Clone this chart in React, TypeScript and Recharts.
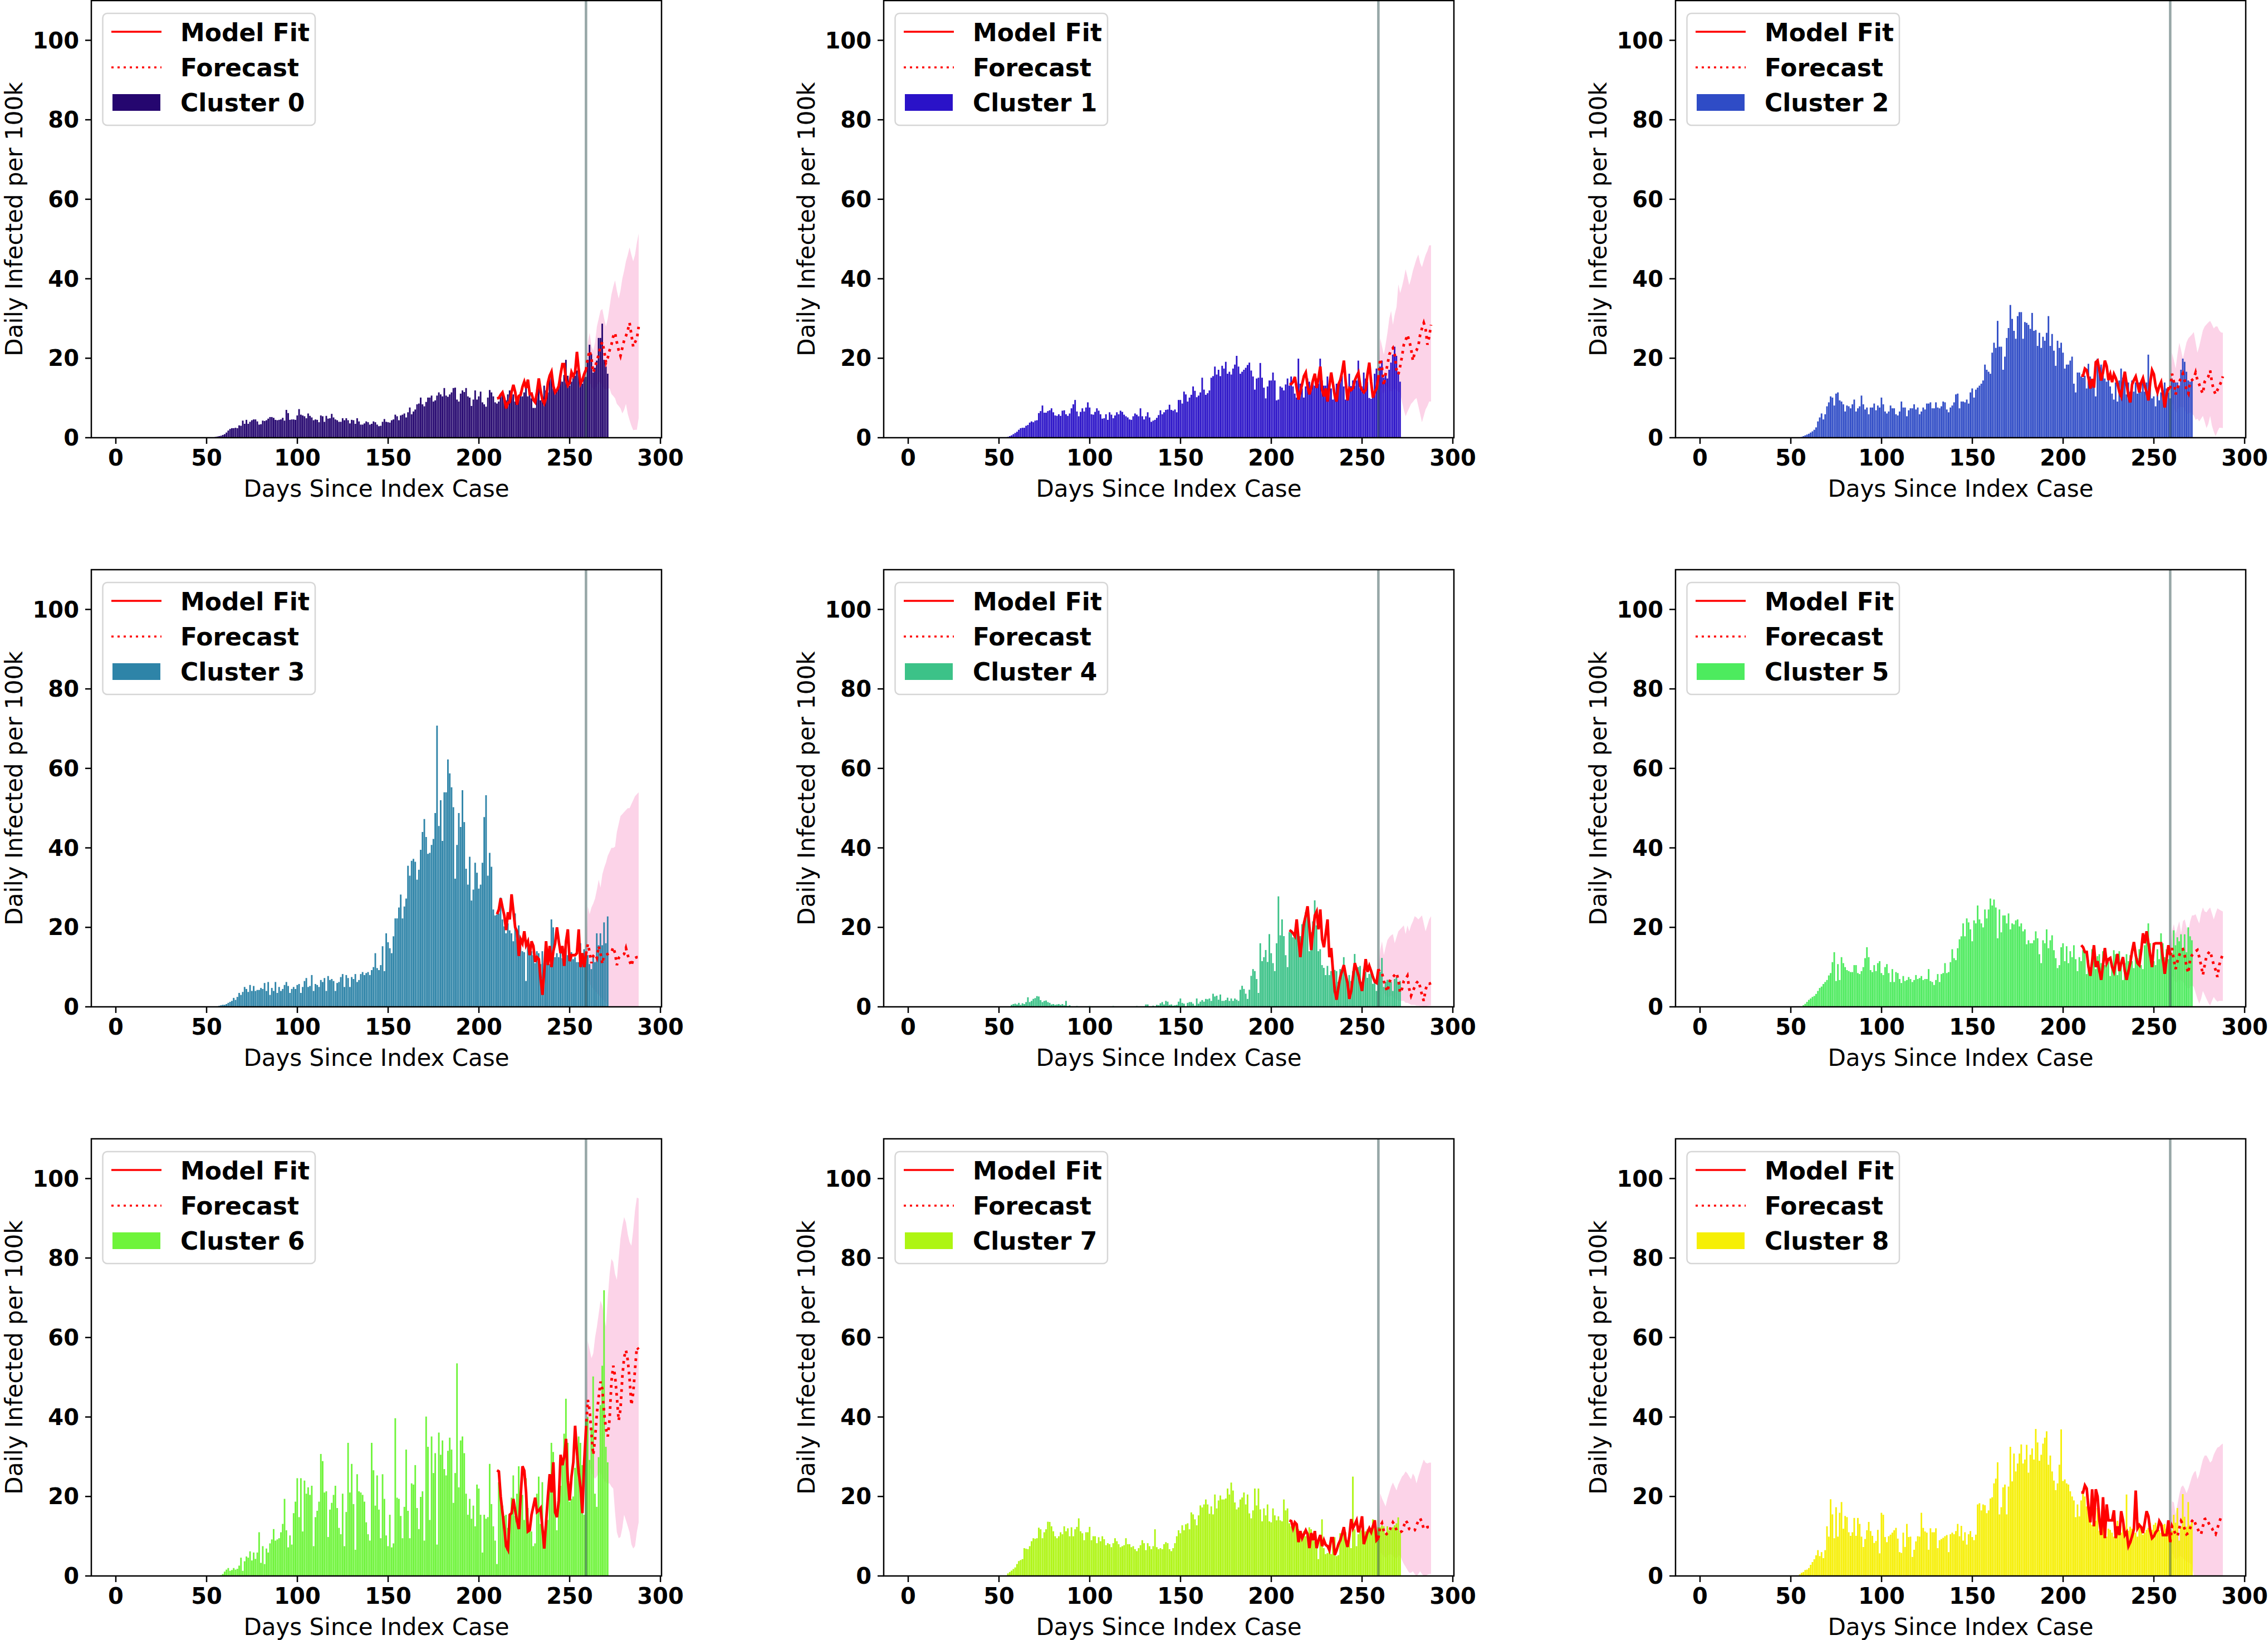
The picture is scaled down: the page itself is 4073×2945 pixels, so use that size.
import { ComposedChart, Bar, Line, Area, XAxis, YAxis, ReferenceLine } from 'recharts'

const FONT = '"DejaVu Sans", sans-serif'

// first day of each series
const BAR_START = 55
const FIT_START = 210
const FC_START = 259
const SPLIT_DAY = 259

const X_TICKS = [0, 50, 100, 150, 200, 250, 300]
const Y_TICKS = [0, 20, 40, 60, 80, 100]

const CLUSTERS = ['Cluster 0', 'Cluster 1', 'Cluster 2', 'Cluster 3', 'Cluster 4', 'Cluster 5', 'Cluster 6', 'Cluster 7', 'Cluster 8']
const COLORS = ['#25066f', '#2a12c8', '#2f4cc6', '#2e84a8', '#3cc288', '#4deb5e', '#6ef43a', '#aef512', '#f6ef05']

// daily infected per 100k, days 55..271
const bars0 = [0.2,0.3,0.4,0.5,0.7,0.9,1.3,1.8,2.2,2.4, 2.4,2.5,2.4,3.1,3.0,4.3,3.5,4.5,3.5,4.0, 4.4,4.6,4.6,4.1,3.3,3.4,4.3,4.2,4.4,4.8, 5.2,5.2,5.0,4.5,4.4,4.5,4.6,5.0,4.3,7.0, 6.2,4.5,4.6,4.6,4.5,5.6,7.2,5.8,5.6,5.4, 4.9,6.1,5.5,5.1,4.4,4.6,4.5,3.9,5.6,5.4, 4.0,5.5,4.8,4.9,6.0,5.1,4.6,4.4,4.0,4.0, 4.9,4.4,4.9,4.4,3.6,4.5,4.4,3.5,4.9,4.1, 3.3,3.3,3.6,4.1,3.9,3.3,3.5,4.1,3.9,3.3, 2.9,3.0,4.0,4.7,4.0,3.9,3.8,4.4,4.6,5.8, 5.4,4.4,5.6,5.8,6.1,5.1,6.4,7.6,5.9,6.6, 7.1,8.4,8.6,10.1,8.4,7.9,9.0,10.1,10.1,10.6, 9.1,9.4,10.6,11.4,10.9,10.4,12.5,10.6,10.3,10.9, 11.4,12.5,12.6,9.6,9.1,11.1,11.9,11.5,12.5,10.4, 10.1,8.0,9.6,11.9,9.6,10.4,11.6,8.9,8.4,7.8, 10.1,12.0,11.4,10.4,8.9,8.6,9.1,10.4,10.9,9.4, 9.4,10.9,11.9,10.5,10.9,9.1,10.4,10.4,11.4,10.4, 11.4,13.3,10.4,11.9,9.9,7.5,7.5,11.4,14.4,9.4, 10.4,13.1,11.9,11.4,14.9,15.9,12.4,11.4,11.9,13.6, 15.1,14.1,15.8,19.6,15.6,13.1,14.1,15.1,15.6,16.9, 16.9,13.6,13.6,15.3,15.3,19.6,23.4,21.1,16.4,17.6, 19.4,25.1,25.1,28.7,19.6,17.9,16.1]
const bars1 = [0.2,0.4,0.6,0.9,1.2,1.5,2.0,2.4,2.5,2.5, 3.0,3.2,3.8,4.1,3.9,4.3,4.4,6.2,6.7,8.1, 6.3,6.3,6.7,6.9,7.4,6.4,5.6,5.5,5.9,5.5, 6.8,6.9,5.9,5.5,6.1,7.4,8.4,9.5,6.6,5.4, 6.5,7.4,6.6,7.6,8.9,7.6,5.9,5.8,6.5,7.4, 6.8,5.9,4.8,4.9,5.9,4.5,6.4,5.8,4.9,5.6, 6.4,5.9,6.8,6.5,5.8,5.4,5.1,4.6,4.5,5.4, 6.1,5.8,5.4,7.4,5.4,4.6,5.4,6.4,5.1,4.0, 4.3,4.5,5.0,5.7,6.9,5.9,6.4,7.0,7.1,8.3, 7.0,6.8,7.1,6.4,9.5,9.5,8.6,11.6,10.9,9.1, 10.1,10.8,12.9,11.8,10.2,10.6,11.4,15.1,12.1,10.8, 11.2,11.9,15.1,15.5,17.9,15.9,17.1,15.5,18.1,17.4, 19.1,16.1,16.6,15.9,17.4,18.4,20.6,17.9,16.1,16.6, 17.1,17.6,18.3,18.9,16.9,15.4,12.1,14.9,15.1,18.8, 15.1,12.6,9.9,12.9,14.4,14.4,16.4,14.4,9.4,9.6, 12.9,12.6,11.9,13.4,14.9,13.1,15.4,12.9,11.1,10.1, 19.9,13.6,12.4,10.1,12.9,14.9,14.1,12.4,14.4,13.1, 14.9,13.6,19.9,14.4,13.1,13.1,15.4,13.6,12.4,9.6, 11.4,13.6,13.6,14.1,15.6,12.9,9.6,10.4,16.1,13.0, 14.4,13.1,14.4,19.4,12.5,12.9,16.4,14.9,14.1,10.0, 9.8,10.1,16.1,17.4,15.4,17.9,19.4,15.1,15.9,14.9, 17.1,18.9,20.9,22.9,20.6,16.6,14.1]
const bars2 = [0.1,0.2,0.4,0.6,0.8,1.0,1.3,1.6,2.0,2.6, 4.1,5.1,6.1,4.6,5.9,7.9,8.9,10.4,10.1,8.1, 11.1,11.4,9.4,9.1,8.4,6.6,8.1,7.9,7.4,8.4, 9.6,6.6,7.4,7.9,10.6,8.4,7.1,7.6,5.9,7.6, 7.6,8.6,6.9,8.1,7.6,10.1,8.4,6.6,6.1,6.6, 8.1,7.4,7.4,5.9,5.6,6.6,9.1,7.6,7.6,5.4, 6.9,7.4,7.4,8.4,7.1,7.6,5.9,6.6,7.6,7.1, 8.6,8.6,8.9,7.4,7.4,8.9,7.6,7.4,7.9,9.1, 8.9,7.1,6.4,7.6,8.1,8.9,10.9,11.1,7.4,9.1, 9.1,8.9,9.6,8.6,11.4,12.4,10.1,12.1,12.6,13.1, 13.6,14.4,18.4,17.1,16.6,16.1,21.4,23.9,22.6,29.4, 22.9,22.9,17.1,20.4,25.1,27.6,33.4,29.9,26.9,24.9, 30.6,31.6,31.6,24.9,29.1,28.9,28.4,27.4,31.4,26.9, 27.1,23.1,26.4,22.6,25.4,24.4,26.4,30.6,23.1,26.1, 21.9,18.1,24.4,22.6,23.9,21.4,17.4,18.4,18.4,19.4, 20.4,13.6,11.4,16.4,16.4,15.4,15.1,15.6,12.4,18.6, 15.4,14.4,13.9,10.4,19.9,16.6,18.4,16.9,14.9,14.1, 14.6,12.9,11.1,9.6,13.9,9.1,14.4,17.4,15.1,14.6, 10.9,13.9,11.6,14.4,11.6,13.9,11.1,13.9,11.6,14.4, 11.6,13.9,20.9,13.9,9.9,10.4,7.9,12.6,9.4,11.4, 11.9,13.9,12.4,11.4,9.9,14.9,14.1,13.9,13.9,13.1, 17.1,19.9,19.1,16.6,14.4,14.1,14.4]
const bars3 = [0.1,0.15,0.25,0.4,0.5,0.5,0.7,1.0,1.25,1.5, 2.25,1.75,2.5,3.5,3.0,3.75,5.0,4.5,3.75,5.5, 4.0,5.25,4.0,4.25,4.25,4.75,4.5,6.0,4.0,6.25, 3.0,4.75,4.0,6.25,3.5,5.0,4.0,4.5,5.5,6.25, 5.25,3.5,4.5,5.0,4.5,5.5,5.75,3.5,5.0,6.5, 7.25,5.0,5.25,8.0,4.0,5.75,5.5,5.0,6.75,6.25, 7.25,4.0,7.75,6.75,7.0,6.5,4.0,6.0,6.25,7.5, 8.25,5.0,8.0,7.25,5.0,7.5,7.0,8.25,6.25,6.75, 8.25,8.75,8.0,8.5,8.75,8.0,9.25,10.0,13.5,9.75, 9.25,10.5,15.25,9.0,18.5,16.25,14.75,13.5,17.75,22.25, 22.25,25.0,28.25,22.25,25.25,27.25,35.5,33.0,36.75,37.25, 36.5,32.0,34.5,39.5,44.0,47.25,42.75,38.5,38.75,40.75, 42.25,48.75,70.75,45.5,52.0,41.75,54.0,54.0,62.25,58.75, 55.25,50.25,32.25,40.75,48.75,45.25,54.5,46.5,34.75,30.75, 37.75,26.75,29.5,36.25,33.75,29.75,30.75,36.25,47.75,53.25, 33.0,38.75,35.25,24.5,23.0,23.25,23.5,27.5,22.0,20.25, 18.5,21.0,19.25,18.5,16.5,23.5,17.0,20.5,15.75,14.0, 13.75,6.5,16.5,14.0,14.0,13.0,11.0,14.0,13.5,10.75, 14.0,11.0,12.5,12.0,10.75,22.0,20.0,12.5,13.5,12.5, 14.5,12.25,12.0,14.25,13.0,11.5,13.75,12.0,12.5,11.25, 11.25,16.0,13.25,14.5,12.75,13.0,10.75,9.5,12.5,11.25, 18.5,15.5,18.5,15.5,21.25,16.0,22.75]
const bars4 = [0,0,0.5,0.7,0.8,0.6,1.0,0.5,0.9,0.7, 1.2,2.4,1.2,1.5,2.0,2.2,2.7,2.6,1.7,1.2, 1.5,1.6,1.2,1.0,0.6,0.7,0.5,0.6,0.7,0.5, 0.7,0.4,1.5,0.2,0.4,0,0,0.1,0.2,0, 0.1,0,0,0.1,0,0.2,0.1,0,0,0, 0.1,0,0,0.1,0,0.1,0,0,0.2,0, 0,0.1,0,0.1,0,0,0.1,0,0,0.1, 0,0.2,0,0,0.1,0,0.6,0.6,0,0, 0.3,0,0.5,0.4,0.9,1.2,0.6,1.5,1.3,0.5, 0.6,0.3,0.4,0.5,1.3,2.1,1.0,0.8,0,1.0, 1.2,1.2,0.8,0.3,2.1,0.8,1.3,1.7,1.3,2.0, 1.9,2.1,1.5,3.3,2.6,2.8,1.8,3.1,1.5,1.5, 1.7,2.3,1.5,2.1,1.5,2.1,1.8,1.5,4.3,5.3, 4.5,3.3,2.0,4.3,7.8,9.5,9.0,7.0,3.5,16.0, 11.5,12.5,14.3,11.3,18.3,13.5,11.0,9.0,16.0,27.8, 18.0,22.0,17.8,13.0,10.0,18.8,19.0,17.5,18.8,19.8, 16.0,17.8,20.8,21.0,23.8,24.3,14.0,18.8,21.5,26.8, 20.5,14.0,14.5,10.5,9.8,8.0,10.3,8.0,9.0,8.3, 9.3,9.0,6.3,9.5,9.0,12.5,8.8,6.5,8.0,6.5, 9.0,13.3,9.0,10.0,10.3,6.3,9.5,8.8,7.3,8.3, 9.0,5.8,7.0,4.0,8.3,8.8,12.3,5.0,6.3,6.8, 6.8,6.3,4.0,7.0,7.5,6.3,6.5]
const bars5 = [0,0,0.4,0.75,1.25,1.75,2.1,2.5,2.75,3.25, 4.0,4.75,5.1,5.75,6.25,6.75,7.9,8.5,11.25,13.75, 6.5,10.75,6.75,12.5,11.0,10.0,9.25,9.0,8.75,8.75, 10.5,10.5,8.5,8.25,9.0,10.0,12.25,15.0,12.5,9.25, 8.75,10.5,9.0,11.0,11.5,8.5,8.0,10.0,10.75,8.5, 6.25,9.5,6.25,8.75,8.5,7.0,6.0,7.75,6.5,6.75, 7.5,7.0,6.25,6.75,8.0,7.0,7.25,7.75,6.75,7.0, 7.0,9.5,6.5,6.25,5.5,6.75,8.25,6.25,8.25,8.5, 11.0,8.5,8.75,11.25,14.5,12.25,11.75,14.75,17.0,17.75, 21.0,17.75,22.25,21.25,19.5,16.5,21.75,21.0,25.5,22.0, 21.0,20.0,24.5,22.25,24.5,27.25,25.5,27.0,25.0,17.25, 24.5,18.75,23.0,23.0,21.0,23.5,19.5,21.0,20.75,21.75, 22.0,20.25,21.0,19.0,19.5,15.75,16.75,16.0,16.0,16.75, 19.0,17.25,13.25,11.0,16.75,16.0,19.5,14.75,16.75,18.0, 14.25,12.25,9.75,10.5,15.0,16.0,11.5,15.25,11.0,14.0, 12.5,15.5,12.0,9.0,12.5,11.5,14.25,13.5,8.25,11.75, 10.0,14.5,12.5,9.5,12.75,13.25,11.0,14.0,10.5,11.5, 11.25,7.75,11.0,14.25,13.25,8.0,14.0,11.0,6.75,11.0, 13.25,11.5,13.0,11.5,9.75,13.5,12.25,14.5,10.5,9.5, 15.5,17.75,21.0,16.0,13.0,11.5,10.5,14.5,12.0,18.5, 16.0,12.5,14.5,12.0,14.0,13.5,19.25,15.5,17.5,16.5, 18.25,14.25,18.25,13.75,20.0,17.75,16.75]
const bars6 = [0,0,0,0.2,0.5,1.1,1.6,2.0,1.3,1.5, 2.0,1.6,1.8,2.6,4.6,1.3,3.7,4.9,4.6,6.2, 3.9,5.9,4.3,5.9,11.0,3.3,7.5,3.0,6.9,5.9, 8.2,9.2,11.8,8.9,9.2,9.5,11.0,13.1,19.4,11.5, 7.2,10.2,7.9,15.8,18.7,24.6,14.8,24.6,11.2,24.0, 20.7,22.3,20.4,22.7,7.5,14.8,16.4,18.7,30.7,28.9, 21.0,21.3,9.8,16.7,18.4,20.4,22.7,17.1,12.1,10.5, 20.7,7.5,16.1,33.5,21.0,28.2,18.1,6.6,25.6,21.3, 21.0,20.4,18.7,13.5,10.5,8.9,33.5,26.6,17.7,25.3, 16.7,9.5,25.6,19.4,10.2,7.5,15.4,7.2,8.2,39.7, 19.7,19.4,15.1,9.5,17.4,31.8,16.4,9.5,23.3,23.0, 27.9,17.1,11.8,19.9,21.3,8.9,40.1,32.5,14.1,35.1, 25.9,30.9,7.9,36.1,30.5,34.1,26.9,25.3,31.5,34.8, 31.8,18.4,25.9,53.5,22.3,34.1,35.1,30.9,20.7,15.4, 19.4,14.4,17.7,12.5,23.0,22.0,15.4,5.9,15.4,14.4, 14.8,28.2,18.1,12.5,8.9,3.0,23.6,21.7,17.7,15.1, 15.4,12.1,12.8,19.7,25.3,15.1,20.7,27.6,19.4,20.4, 14.1,24.6,17.1,11.5,11.2,7.5,8.2,20.7,25.0,13.1, 23.6,7.9,11.5,14.1,25.0,33.5,31.2,19.7,11.5,18.7, 22.7,29.6,35.8,44.6,33.5,18.7,19.4,20.0,27.2,29.9, 35.1,33.5,27.9,15.4,39.4,40.0,29.2,37.4,50.2,20.7, 17.4,29.9,43.0,52.9,71.9,32.5,28.6]
const bars7 = [0.65,1.0,1.35,1.75,2.15,3.0,3.75,4.0,4.25,7.0, 6.85,6.75,7.5,8.75,9.5,9.35,9.5,12.15,11.75,9.5, 11.0,11.75,13.65,13.6,12.5,11.25,10.0,9.5,10.0,11.0, 10.5,12.5,11.25,12.0,10.0,12.25,10.0,11.75,12.35,14.5, 11.25,10.75,9.0,11.0,11.0,12.35,9.0,10.0,10.0,8.25, 9.75,8.75,10.0,9.25,7.75,8.25,8.0,7.25,8.25,9.5, 8.75,8.0,7.25,7.5,7.75,9.5,8.0,8.0,7.25,7.5, 6.75,6.25,7.0,7.75,9.0,8.25,6.5,8.25,7.5,6.75, 7.5,11.75,7.25,6.75,7.0,6.75,8.0,8.5,8.25,6.75, 6.25,7.0,8.25,10.0,11.5,10.75,12.75,11.5,13.0,13.25, 11.75,16.0,15.5,14.25,12.75,15.25,17.75,17.25,18.0,19.25, 18.0,15.65,17.5,15.5,20.5,17.0,19.0,20.25,19.25,19.25, 19.5,22.0,20.5,23.5,21.5,18.5,16.75,17.25,19.25,19.75, 21.0,18.0,20.5,15.75,14.5,16.5,22.0,17.75,22.0,16.75, 13.75,17.0,15.25,18.0,13.75,13.5,17.0,15.25,14.0,15.0, 14.0,13.75,19.25,16.5,17.0,13.25,12.5,11.75,13.25,12.5, 11.75,10.5,10.75,11.25,10.0,11.0,12.25,11.75,10.25,8.75, 8.25,4.25,9.5,14.25,7.0,5.5,5.75,6.25,5.5,9.25, 9.75,5.0,5.25,10.75,10.0,11.25,11.0,8.25,9.0,7.0, 25.0,11.75,7.5,10.5,12.75,11.5,11.0,11.25,11.75,12.0, 11.5,14.25,13.75,11.25,12.25,12.25,12.75,12.5,10.75,12.5, 11.5,11.75,12.25,12.75,13.25,14.75,11.0]
const bars8 = [0.4,0.8,1.0,1.5,1.6,2.0,2.8,3.5,4.2,5.2, 6.5,5.0,6.0,4.5,6.5,12.5,9.9,19.3,15.5,9.5, 17.3,9.9,15.9,18.6,11.9,15.1,14.8,11.0,10.1,11.0, 14.6,10.1,14.6,13.1,9.9,7.3,9.3,11.5,13.6,11.3, 10.1,8.3,8.8,11.6,5.7,15.9,15.4,9.8,8.5,10.0, 10.4,10.9,11.5,12.1,9.4,6.0,5.8,10.9,7.3,13.1, 9.8,9.9,4.8,6.6,8.7,10.0,9.9,15.9,12.1,11.2, 10.9,6.6,12.0,11.0,11.0,12.0,7.0,9.0,9.3,9.6, 10.0,10.3,6.0,10.5,10.9,10.5,11.3,13.1,10.0,12.6, 8.9,11.0,7.9,10.5,11.3,9.8,9.0,10.4,18.0,18.3, 16.5,18.0,17.8,15.8,16.5,19.5,19.8,23.3,24.5,28.6, 15.5,17.3,22.3,23.0,15.5,22.5,32.5,23.8,30.8,26.3, 28.3,30.8,33.1,28.3,29.3,33.0,26.0,30.5,32.1,29.3, 37.0,33.6,29.0,30.5,33.3,34.8,36.4,28.0,30.3,26.3, 24.0,21.6,23.3,28.0,36.9,23.9,24.3,23.3,23.0,21.3, 20.0,19.0,14.8,18.0,15.0,19.0,21.5,20.0,17.5,16.0, 15.4,12.9,12.9,13.9,17.1,11.4,13.4,14.9,11.4,9.9, 11.9,11.6,10.9,9.9,10.6,13.9,10.4,10.9,12.9,10.4, 20.5,11.4,12.4,11.9,10.9,10.9,9.9,13.4,12.4,10.4, 10.9,11.6,12.1,13.4,11.6,12.9,13.4,12.1,11.6,10.9, 12.9,13.1,11.9,12.4,11.9,11.4,15.4,13.4,17.1,8.9, 12.4,20.6,14.9,12.4,18.6,12.9,14.1]

// model fit, days 210..259
const fit0 = [9.9,10.0,10.8,11.4,9.8,7.4,8.8,9.0,11.5,13.3, 11.5,8.3,10.5,10.8,12.8,14.1,12.5,14.6,11.0,11.1, 9.5,8.9,11.5,14.9,11.8,9.5,8.6,10.0,13.8,15.6, 16.6,13.0,11.4,12.0,13.0,16.0,18.5,18.5,14.5,13.1, 13.8,16.5,15.5,16.5,21.6,17.0,13.6,14.5,16.0,17.1]
const fit1 = [13.5,13.5,14.0,15.3,12.5,9.6,11.5,13.5,15.5,16.4, 13.0,10.9,12.5,14.5,16.1,12.5,15.0,17.9,12.0,10.4, 12.4,9.1,13.0,16.4,13.5,10.5,9.1,13.4,14.5,16.5, 19.4,14.0,9.4,12.4,12.0,12.5,14.4,15.5,16.4,13.0, 12.0,11.4,12.0,16.0,18.9,14.0,10.1,11.5,12.4,15.1]
const fit2 = [15.6,15.6,17.4,17.0,15.0,12.4,14.8,12.6,19.0,19.4, 17.0,14.4,16.5,19.4,18.0,14.5,16.0,14.0,16.0,15.0, 13.5,11.5,10.4,14.0,16.6,13.5,10.5,8.9,13.4,14.5, 15.4,13.5,11.4,13.9,15.0,13.0,11.4,9.4,13.9,17.0, 16.0,12.9,11.4,13.0,14.0,11.0,7.6,11.0,12.4,12.4]
const fit3 = [23.3,24.5,27.3,25,23,19.3,23.8,22,28.3,24, 20,19,12.8,17,16,19,15.5,16.5,13,16.5, 15.3,11.3,12.5,12,7,3,9,16.5,10.5,15.3, 10,14,16,20,16.5,13.5,15.3,10.3,16.5,19.5, 11.5,13,13,13,13.5,19.5,10,13.5,10,13.3]
const fit4 = [19.3,19.0,18.5,17.8,22.0,17.0,12.5,17.0,21.0,23.0, 25.3,20.0,14.3,19.0,23.0,24.0,19.5,24.5,17.0,15.0, 18.5,22.0,12.5,14.8,9.0,4.0,1.8,5.0,7.5,9.0, 10.5,8.0,6.0,2.0,4.0,7.5,11.0,9.5,8.0,6.0, 4.0,8.0,12.0,8.8,10.3,9.0,7.5,6.3,6.0,9.5]
const fit5 = [15.5,15.0,13.8,13.8,10.0,7.8,11.5,15.5,10.0,11.5, 9.0,6.8,10.5,14.8,11.0,12.0,12.3,10.0,8.8,11.0, 13.3,9.0,11.0,12.5,9.0,6.8,9.0,11.0,14.0,16.3, 13.0,11.0,10.5,14.0,18.5,16.0,19.0,16.0,13.0,10.0, 15.8,16.0,16.0,16.0,16.0,12.0,8.3,12.0,15.5,13.0]
const fit6 = [26.6,26.3,20,16,12,7.5,6.6,15.4,15.8,19.4, 16.5,13.8,11.8,20,27.6,26.5,21,11.2,11.5,15.4, 17.5,19.7,16.1,16.5,17.1,12,6.9,13.4,20,25.6, 21.0,28.6,16,14.8,19.0,30.5,27.9,30,34.5,24, 19.0,25,28.6,37.8,31.2,26,22.3,15.8,28.6,37.1]
const fit7 = [14.0,13.8,12.0,13.5,13.0,8.5,11.3,9.5,10.5,11.5, 10.5,7.0,10.8,9.0,11.3,7.0,9.0,10.3,7.5,9.0, 7.8,7.5,6.5,9.5,9.5,5.3,6.5,8.0,9.0,10.5, 12.3,9.0,7.3,10.0,14.3,12.0,13.0,14.0,11.0,12.5, 15.0,8.0,9.5,11.0,12.0,11.0,12.5,14.0,9.0,9.5]
const fit8 = [21.0,21.0,22.8,22.0,17.0,13.5,21.8,12.5,21.8,20.0, 14.0,10.3,19.8,9.5,18.0,14.0,14.0,14.0,16.5,9.5, 12.5,10.3,16.3,14.0,10.3,11.0,7.5,8.5,10.0,11.8, 21.5,12.0,12.8,12.3,10.8,13.5,16.3,15.0,11.3,9.5, 10.0,11.0,11.5,13.8,13.0,10.3,10.3,10.3,14.0,8.5]

// forecast mean, days 259..288
const fc0 = [17.1,20,21.9,19.9,16.4,17.8,19.5,20.9,23,24.1, 21.9,18.9,20.1,22,23.4,25.5,26.4,24,22,20.6, 22.6,24.5,25.6,27,28.9,25.9,22.9,24,24.9,27.9]
const fc1 = [15.1,19.9,17.6,13.1,16.1,18.4,20.9,22.0,22.6,20.9, 17.1,15.9,18.0,20.4,23.4,24.5,25.9,24.4,22.4,19.4, 21.4,22.0,23.1,25.9,27.5,28.9,27.4,23.4,25.4,28.4]
const fc2 = [12.4,16.1,14.1,10.9,12.4,14.1,15.0,16.1,14.4,11.9, 11.1,14.1,14.5,14.9,16.4,14.5,13.4,12.0,11.1,14.1, 14.8,15.4,16.9,13.9,12.0,10.9,12.0,12.9,14.0,15.4]
const fc3 = [13.3,15.8,13.8,11,12.8,13.3,12.3,15.3,13.5,10.8, 12.8,13,13.3,13.5,13.8,15,13.5,10.5,12.3,12.8, 13,13.3,14.8,13,11.5,10.3,12,12.3,12.5,12.5]
const fc4 = [9.5,8.5,8.5,6.5,5.0,3.8,6.0,7.3,7.5,8.0, 8.5,6.8,3.5,4.5,6.5,7.0,7.8,4.5,2.8,4.0, 5.0,6.0,6.5,5.0,3.0,1.5,4.3,5.8,5.8,6.0]
const fc5 = [13.0,14.8,11.8,9.5,11.5,13.0,14.3,14.5,13.0,10.0, 8.5,12.0,13.0,13.5,14.0,14.3,12.5,10.5,8.0,10.5, 12.8,13.5,14.0,12.3,10.5,9.3,7.5,10.5,12.0,13.3]
const fc6 = [37.1,44.3,41.7,35.8,30.5,34.5,41,45,48.9,47, 41,37,35.1,39.5,48.9,52.9,50.3,45,39.1,42, 50,55,56.8,54.3,49.6,43,46,52,57.5,57]
const fc7 = [9.5,12.5,13.3,11.3,10.3,10.8,11.0,12.5,13.5,12.8, 11.5,11.3,11.0,11.3,12.5,14.0,13.3,11.8,11.5,11.3, 11.5,12.8,13.8,14.5,13.5,11.8,12.0,12.3,12.3,12.3]
const fc8 = [8.5,12.5,11.5,10.5,10.0,12.0,13.8,13.0,11.8,10.5, 10.8,12.0,13.8,14.3,13.0,12.0,11.0,10.5,12.5,14.3, 14.5,13.5,12.5,12.0,11.0,10.5,12.0,13.5,14.8,14.3]

// forecast interval, days 259..288
const up0 = [17.1,24,26.4,23,21.9,24,28,30,32,32.4, 30,28,30,33,36,38,39.6,37,35,37, 40,42,44.4,46,47.9,46,44.4,46,49,51.4]
const lo0 = [17.1,15,14,13,12,12.5,13,14,14,13, 12.5,12,12.4,12.4,11,10.5,9.9,8.5,8,7.4, 6.1,7,8.5,6,4.4,3,1.9,2,2,4.9]
const up1 = [15.1,25.1,23,20.9,23.5,26.4,30,31.9,28.4,31, 32.9,38.6,36.4,38,40,42.4,40.5,38.4,40,42, 43.5,45,46.1,44,42.9,44.5,46,47,48.4,48.4]
const lo1 = [15.1,13,12,10.5,12.9,13,12,11.5,12,12.5, 12,11.5,11.4,9,7,5.4,6.5,7.5,8.5,9, 9.6,10,8,6,3.9,5.5,7.1,8,9.1,9.1]
const up2 = [12.4,21.4,19.5,17.4,21,23.9,22,19.9,22,24, 25,25.5,26,26.6,24,21.4,23,25,27,28, 28.5,29,29.4,28.5,27.5,28,28,27,26.5,26.4]
const lo2 = [12.4,9,8,6,7,8,7.5,8,7,6, 6,6.5,6,5.6,4.5,4.8,4.1,4.8,5.5,4, 2.4,3.5,5.5,3,1.5,0.4,1.5,2.5,2.5,2.4]
const up3 = [13.3,25.3,23.3,25,26,27.3,29.5,32,30,33.3, 35,36.3,38,39,40,40,40.3,44,46,48, 48.5,49,49.5,50,50,51,52,53,53.5,54]
const lo3 = [13.3,7,6,5,4.5,4,3.5,3,2.5,2, 1.5,1,0.5,0,0,0,0,0,0,0, 0,0,0,0,0,0,0,0,0,0]
const up4 = [9.5,14.3,16.5,13,15,16.8,17.5,18,18.3,16, 17.5,19,19.5,20,20.5,18.3,20.5,19,20.5,21.5, 22.8,22.5,22,22.5,23,21,19,20.5,22,22.8]
const lo4 = [9.5,5,4.5,3.5,3,2.5,2.5,3,2.5,2, 2,1.5,1.5,1.5,1.5,1,1,0.8,0.5,0.5, 0.5,0.3,0.3,0.2,0.2,0,0,0.2,0.3,0.3]
const up5 = [13,19,20.8,18.3,20,21.5,18.5,21.5,22,20, 19,21.5,23,23,23.3,22,21,23.5,25,24, 23.8,24.5,25,23.5,22,23.5,24.8,24.5,24.2,24]
const lo5 = [13,8,7,6,6.5,7,6.5,6.5,5.5,5, 4.5,5,5.5,5,3.5,2,0.8,2,4,3, 2,1,0.3,1.5,2.5,1.8,1.3,1.5,1.5,1.5]
const up6 = [37.1,59.1,57,54.8,56,60,62.7,66,69.3,68, 65,62.7,70,76,79.8,79,76,74.5,80,85, 88,90.3,89,86,84,83.1,87,92,95.2,95]
const lo6 = [37.1,30,28,26,25,24.5,25,26,26,25, 24,23.5,23.3,23.3,22.5,22,16,11,9.5,9.8, 12,15.4,14,12.5,11,8,6.9,7.5,11,13.5]
const up7 = [9.5,20.8,19.5,18.5,17.5,19.5,21,22.5,23.5,22.5, 21.5,23,24,25,25.5,26.3,25.8,25,24.3,25.8, 25,23.3,25,26.5,28,29.3,28.5,28.3,28.5,28.5]
const lo7 = [9.5,6,5.5,5,4.5,5,5.5,5.5,5,4.5, 4.5,5,5.3,4,3,2.3,1.5,0.8,0.8,1.2, 0.5,0,0.5,1.2,0.5,0,0,0.3,0.5,0.5]
const up8 = [8.5,18.8,18.5,15.5,18,20.5,22.3,22.8,22,20.8, 22,23.5,25,26,26.5,24.3,25.5,27.5,29.3,30.3, 30.3,29.5,28.5,29,30.5,31.5,32.3,32.5,33,33.3]
const lo8 = [8.5,6,5,4,4.5,5,5,4.5,4,3.5, 3.5,3,3,0,0,0,0,0,0,0, 0,0,0,0,0,0,0,0,0,0]

const BARS = [bars0, bars1, bars2, bars3, bars4, bars5, bars6, bars7, bars8]
const FITS = [fit0, fit1, fit2, fit3, fit4, fit5, fit6, fit7, fit8]
const FCS = [fc0, fc1, fc2, fc3, fc4, fc5, fc6, fc7, fc8]
const UPS = [up0, up1, up2, up3, up4, up5, up6, up7, up8]
const LOS = [lo0, lo1, lo2, lo3, lo4, lo5, lo6, lo7, lo8]

const COL_X = [0, 1423, 2845]
const ROW_Y = [0, 1022, 2044]
const W = 1228
const H = 905
const PLOT = { left: 164, top: 1, width: 1024, height: 785 }

function buildRows(i: number) {
  const bars = BARS[i], fit = FITS[i], fc = FCS[i], up = UPS[i], lo = LOS[i]
  const last = FC_START + fc.length - 1
  const rows: any[] = []
  for (let d = BAR_START; d <= last; d++) {
    const row: any = { day: d }
    const b = d - BAR_START
    if (b < bars.length) row.v = bars[b]
    const f = d - FIT_START
    if (f >= 0 && f < fit.length) row.fit = fit[f]
    const k = d - FC_START
    if (k >= 0 && k < fc.length) {
      row.fc = fc[k]
      row.band = [lo[k], up[k]]
    }
    rows.push(row)
  }
  return rows
}

const tickStyle = { fontSize: 40, fontWeight: 'bold', fill: '#000', fontFamily: FONT }

function Panel({ i }: { i: number }) {
  const rows = buildRows(i)
  const cx = PLOT.left + PLOT.width / 2
  const cy = PLOT.top + PLOT.height / 2
  return (
    <div style={{ position: 'absolute', left: COL_X[i % 3], top: ROW_Y[Math.floor(i / 3)], width: W, height: H }}>
      <ComposedChart width={W} height={H} data={rows} margin={{ top: PLOT.top, right: W - PLOT.left - PLOT.width, left: 0, bottom: 0 }}>
        <XAxis
          dataKey="day"
          type="number"
          domain={[-13.5, 300.6]}
          ticks={X_TICKS}
          interval={0}
          allowDataOverflow
          axisLine={false}
          tickLine={{ stroke: '#000', strokeWidth: 2.5 }}
          tickSize={11}
          tickMargin={11}
          height={H - PLOT.top - PLOT.height}
          tick={tickStyle}
        />
        <YAxis
          type="number"
          domain={[0, 110]}
          ticks={Y_TICKS}
          interval={0}
          allowDataOverflow
          axisLine={false}
          tickLine={{ stroke: '#000', strokeWidth: 2.5 }}
          tickSize={11}
          tickMargin={11}
          width={PLOT.left}
          tick={tickStyle}
        />
        <Area dataKey="band" type="linear" stroke="none" fill="#fcd3e8" fillOpacity={1} isAnimationActive={false} connectNulls={false} />
        <Bar dataKey="v" fill={COLORS[i]} barSize={2.85} isAnimationActive={false} />
        <ReferenceLine x={SPLIT_DAY} stroke="#2f4f4f" strokeOpacity={0.5} strokeWidth={4.5} />
        <Line dataKey="fit" type="linear" stroke="#ff0000" strokeWidth={4.8} dot={false} isAnimationActive={false} connectNulls={false} />
        <Line dataKey="fc" type="linear" stroke="#ff0000" strokeWidth={4.8} strokeDasharray="4.8 7.9" dot={false} isAnimationActive={false} connectNulls={false} />
      </ComposedChart>
      <svg width={W} height={H} style={{ position: 'absolute', left: 0, top: 0, pointerEvents: 'none', overflow: 'visible' }}>
        <rect x={PLOT.left} y={PLOT.top} width={PLOT.width} height={PLOT.height} fill="none" stroke="#000" strokeWidth={2.5} />
        <text x={40} y={cy} transform={`rotate(-90 40 ${cy})`} textAnchor="middle" fontSize={42} fontFamily={FONT} fill="#000">
          Daily Infected per 100k
        </text>
        <text x={cx} y={892} textAnchor="middle" fontSize={42} fontFamily={FONT} fill="#000">
          Days Since Index Case
        </text>
        <g>
          <rect x={184.5} y={24} width={381.5} height={201} rx={8} fill="#fff" fillOpacity={0.8} stroke="#d6d6d6" strokeWidth={2.5} />
          <line x1={200} x2={290} y1={57} y2={57} stroke="#ff0000" strokeWidth={3.5} />
          <line x1={200} x2={290} y1={121} y2={121} stroke="#ff0000" strokeWidth={3.5} strokeDasharray="4 7" />
          <rect x={202} y={169} width={86} height={30} fill={COLORS[i]} />
          <text x={324} y={74} fontSize={44} fontWeight="bold" fontFamily={FONT} fill="#000">Model Fit</text>
          <text x={324} y={137} fontSize={44} fontWeight="bold" fontFamily={FONT} fill="#000">Forecast</text>
          <text x={324} y={200} fontSize={44} fontWeight="bold" fontFamily={FONT} fill="#000">{CLUSTERS[i]}</text>
        </g>
      </svg>
    </div>
  )
}

export default function App() {
  return (
    <div style={{ position: 'absolute', left: 0, top: 0, width: 4073, height: 2945, overflow: 'hidden', background: '#fff' }}>
      {CLUSTERS.map((_, i) => <Panel key={i} i={i} />)}
    </div>
  )
}
